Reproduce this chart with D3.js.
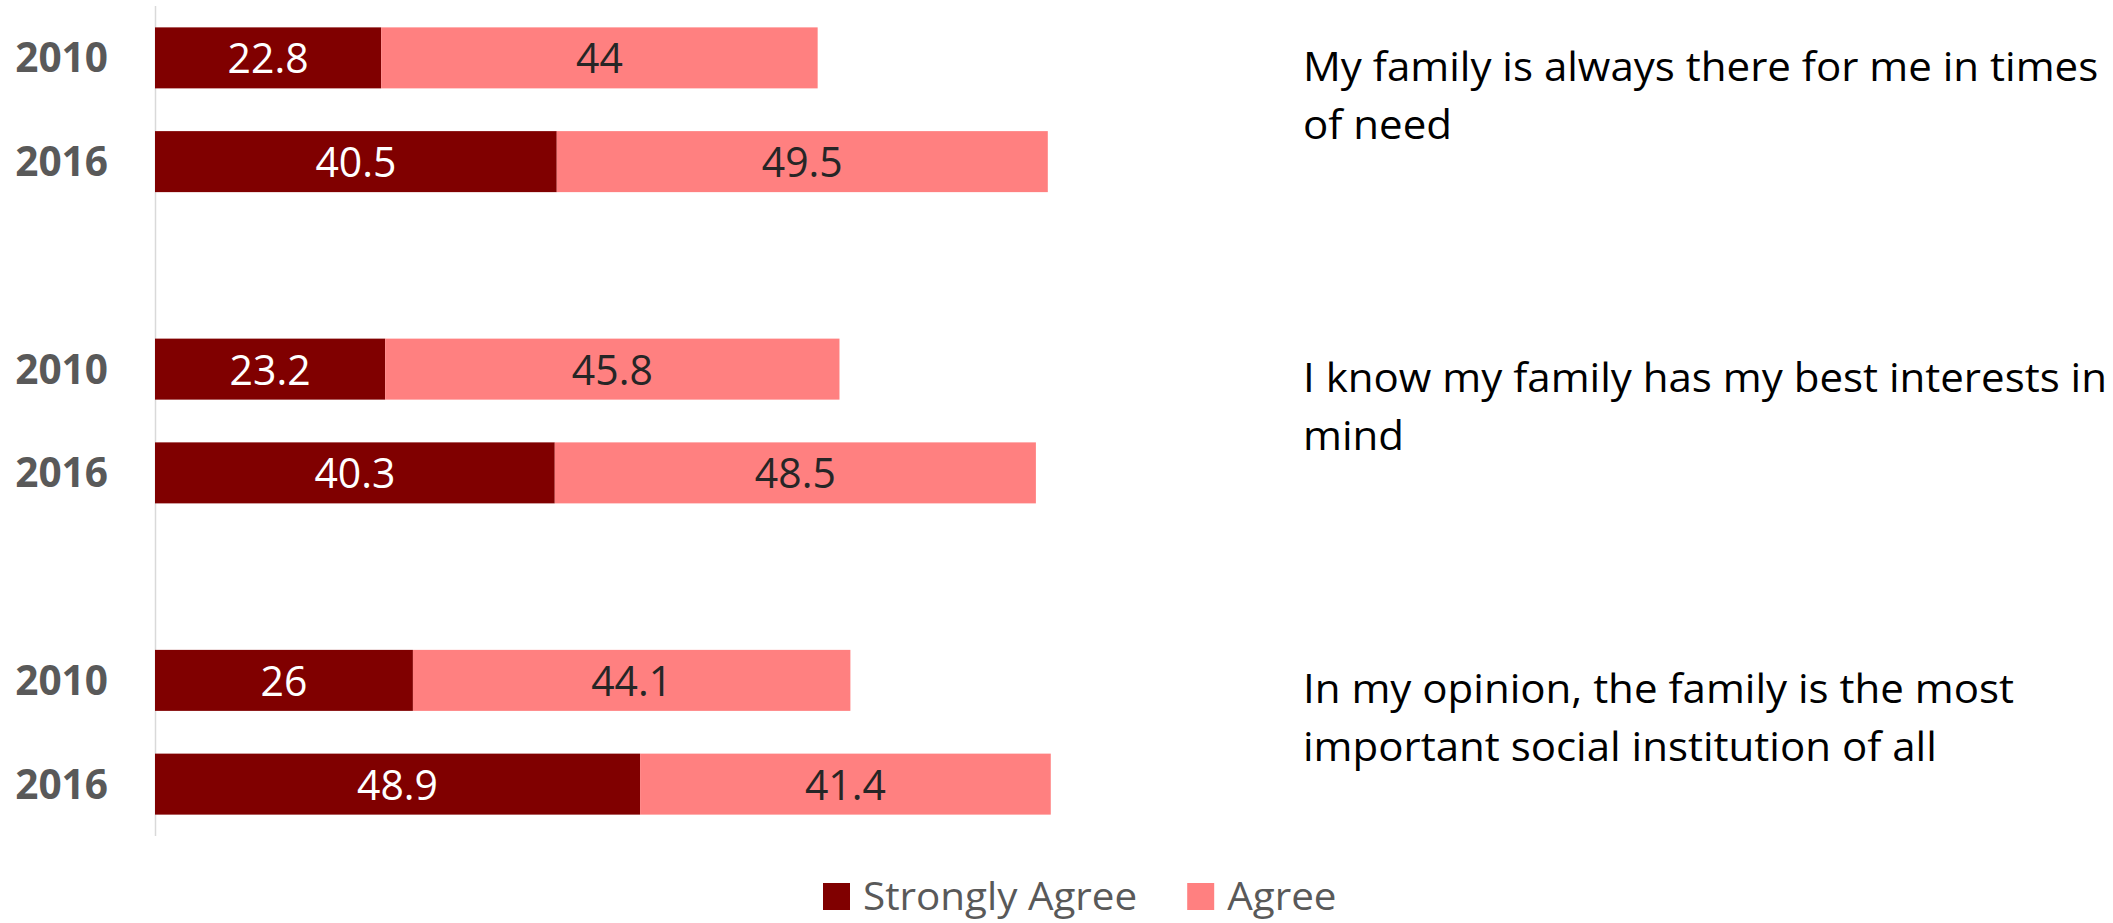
<!DOCTYPE html>
<html>
<head>
<meta charset="utf-8">
<script src="https://cdn.jsdelivr.net/npm/d3@7/dist/d3.min.js"></script>
<style>
  html, body { margin: 0; padding: 0; background: #fff; }
  svg { display: block; }
  text { font-family: "Open Sans", "Noto Sans", sans-serif; }
</style>
</head>
<body>
<svg id="chart" width="2113" height="923"></svg>
<script>
// ---- data ----
const statements = [
  ["My family is always there for me in times", "of need"],
  ["I know my family has my best interests in", "mind"],
  ["In my opinion, the family is the most", "important social institution of all"]
];
const years = ["2010", "2016"];
const stronglyAgree = [22.8, 40.5, 23.2, 40.3, 26, 48.9];
const agree = [44, 49.5, 45.8, 48.5, 44.1, 41.4];
const seriesNames = ["Strongly Agree", "Agree"];
const seriesColors = ["#800000", "#FF8080"];

// ---- build rows ----
const rows = [];
const slots = [];
statements.forEach((s, g) => {
  years.forEach((yr, j) => {
    const i = g * years.length + j;
    const key = g + "-" + yr;
    rows.push({ key, group: g, year: yr, sa: stronglyAgree[i], ag: agree[i] });
    slots.push(key);
  });
  if (g < statements.length - 1) slots.push(g + "-gap");
});

const svg = d3.select("#chart");

const x = d3.scaleLinear().domain([0, 100]).range([155, 1147]);
const y = d3.scaleBand().domain(slots).range([6, 836]).paddingInner(0.412).paddingOuter(0.206);

// helper to measure
function measure(str, size, weight) {
  const t = svg.append("text").attr("font-size", size).attr("font-weight", weight || 400).text(str);
  const w = t.node().getComputedTextLength();
  t.remove();
  return w;
}
const TXT = 40.6;
const kText = 795 / measure(statements[0][0], TXT);
const VAL = 42.5;
const kVal = Math.min(1, 81 / measure("22.8", VAL));

// axis line
svg.append("line")
  .attr("x1", x(0) + 0.5).attr("x2", x(0) + 0.5)
  .attr("y1", y.range()[0]).attr("y2", y.range()[1])
  .attr("stroke", "#d9d9d9").attr("stroke-width", 1.5);

// bars
const bh = y.bandwidth();
const barG = svg.append("g");
barG.selectAll("rect.sa").data(rows).join("rect")
  .attr("class", "sa")
  .attr("x", x(0)).attr("y", d => y(d.key))
  .attr("width", d => x(d.sa) - x(0)).attr("height", bh)
  .attr("fill", seriesColors[0]);
barG.selectAll("rect.ag").data(rows).join("rect")
  .attr("class", "ag")
  .attr("x", d => x(d.sa)).attr("y", d => y(d.key))
  .attr("width", d => x(d.sa + d.ag) - x(d.sa)).attr("height", bh)
  .attr("fill", seriesColors[1]);

// value labels
const valG = svg.append("g").attr("font-size", VAL);
valG.selectAll("text.vsa").data(rows).join("text")
  .attr("text-anchor", "middle")
  .attr("transform", d => `translate(${(x(0) + x(d.sa)) / 2},${y(d.key) + bh / 2 + 15.5}) scale(${kVal},1)`)
  .attr("fill", "#ffffff")
  .text(d => d.sa);
valG.selectAll("text.vag").data(rows).join("text")
  .attr("text-anchor", "middle")
  .attr("transform", d => `translate(${(x(d.sa) + x(d.sa + d.ag)) / 2},${y(d.key) + bh / 2 + 15.5}) scale(${kVal},1)`)
  .attr("fill", "#262626")
  .text(d => d.ag);

// year labels (category axis)
svg.append("g").selectAll("text").data(rows).join("text")
  .attr("x", 108).attr("y", d => y(d.key) + bh / 2 + 14.5)
  .attr("text-anchor", "end")
  .attr("font-size", 40.6).attr("font-weight", 700)
  .attr("fill", "#595959")
  .text(d => d.year);

// statements on the right
const stG = svg.append("g").attr("font-size", TXT).attr("fill", "#000");
statements.forEach((lines, g) => {
  const top = y(g + "-" + years[0]);
  const bot = y(g + "-" + years[years.length - 1]) + bh;
  const c = (top + bot) / 2;
  lines.forEach((ln, li) => {
    stG.append("text")
      .attr("transform", `translate(1303,${c - 29 + li * 58}) scale(${kText},1)`)
      .text(ln);
  });
});

// legend
const leg = svg.append("g");
let lx = 823;
const LEG = 39;
seriesNames.forEach((name, i) => {
  leg.append("rect").attr("x", lx).attr("y", 883).attr("width", 27).attr("height", 27).attr("fill", seriesColors[i]);
  const t = leg.append("text")
    .attr("transform", `translate(${lx + 40},910) scale(${kText},1)`)
    .attr("font-size", LEG).attr("fill", "#595959")
    .text(name);
  lx += 40 + t.node().getComputedTextLength() * kText + 50;
});
</script>
</body>
</html>
